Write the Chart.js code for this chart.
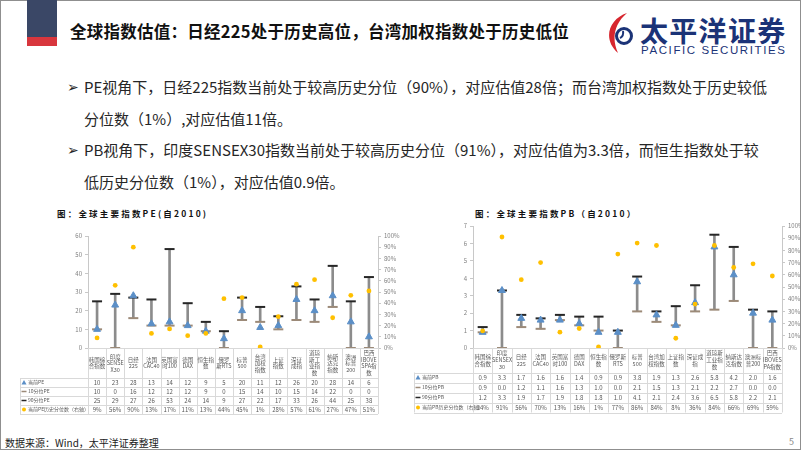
<!DOCTYPE html>
<html>
<head>
<meta charset="utf-8">
<script src="https://cdn.jsdelivr.net/npm/chart.js@4.4.0/dist/chart.umd.min.js"></script>
<style>
  html, body { margin: 0; padding: 0; background: #fff; }
  body { width: 802px; height: 451px; position: relative; overflow: hidden;
         font-family: "Noto Sans CJK SC", "Noto Sans", sans-serif; color: #222; }
  .frame { position: absolute; left: 0; top: 0; width: 799px; height: 448px; border: 1px solid #8f8f8f; }
  .navy { position: absolute; left: 27px; top: 0; width: 30px; height: 37px; background: #3a4766; }
  .red { position: absolute; left: 27px; top: 37px; width: 30px; height: 9px; background: #d8363d; }
  .title { position: absolute; left: 70px; top: 19px; font-size: 16.5px; font-weight: bold; color: #111; white-space: nowrap; letter-spacing: 0.25px; }
  .logo-cn { position: absolute; left: 640px; top: 10px; font-size: 28px; font-weight: bold; color: #1b3377; letter-spacing: 1.3px; white-space: nowrap; }
  .logo-en { position: absolute; left: 641px; top: 44px; font-size: 11.5px; color: #1b3377; letter-spacing: 1.6px; white-space: nowrap; font-family: "Liberation Sans", sans-serif; }
  .bullets { position: absolute; left: 67px; top: 71px; font-size: 15px; line-height: 31.5px; color: #262626; }
  .bullets .row { position: relative; padding-left: 17px; white-space: nowrap; }
  .bullets .arrow { position: absolute; left: 0; top: 0; font-size: 14px; }
  .ctitle { position: absolute; top: 207px; font-size: 8.5px; font-weight: bold; letter-spacing: 2.2px; color: #111; white-space: nowrap; }
  canvas { position: absolute; }
  .foot { position: absolute; left: 5px; top: 435px; font-size: 10px; color: #222; white-space: nowrap; }
  .page { position: absolute; left: 789px; top: 435px; font-size: 9px; color: #888; }
</style>
</head>
<body>
<div class="frame"></div>
<div class="navy"></div>
<div class="red"></div>
<div class="title">全球指数估值：日经225处于历史高位，台湾加权指数处于历史低位</div>
<svg width="36" height="44" style="position:absolute;left:603px;top:11px">
  <path d="M24 2 C6 8 -1 28 15 42 C9 29 10 14 24 2 Z" fill="#d7262e"/>
  <circle cx="21" cy="25" r="7.5" fill="none" stroke="#1b3377" stroke-width="3"/>
  <path d="M17 27 q4 -2 3 -7" fill="none" stroke="#1b3377" stroke-width="2"/>
</svg>
<div class="logo-cn">太平洋证券</div>
<div class="logo-en">PACIFIC SECURITIES</div>

<div class="bullets">
  <div class="row"><span class="arrow">➢</span>PE视角下，日经225指数当前处于较高历史分位（90%），对应估值28倍；而台湾加权指数处于历史较低<br>分位数（1%）,对应估值11倍。</div>
  <div class="row"><span class="arrow">➢</span>PB视角下，印度SENSEX30指数当前处于较高历史分位（91%），对应估值为3.3倍，而恒生指数处于较<br>低历史分位数（1%），对应估值0.9倍。</div>
</div>

<div class="ctitle" style="left:57px">图：全球主要指数PE(自2010)</div>
<div class="ctitle" style="left:475px">图：全球主要指数PB（自2010）</div>

<canvas id="pe" width="392" height="196" style="left:14px;top:226px"></canvas>
<canvas id="pb" width="390" height="200" style="left:410px;top:218px"></canvas>

<div class="foot">数据来源：Wind，太平洋证券整理</div>
<div class="page">5</div>

<script>
// PE data
const peCats = [['韩国综','合指数'], ['印度','SENSE','X30'], ['日经','225'], ['法国','CAC40'], ['英国富','时100'],
  ['德国','DAX'], ['恒生指','数'], ['俄罗','斯RTS'], ['标普','500'], ['台湾','加权','指数'], ['上证','指数'],
  ['深证','成指'], ['道琼','斯工','业指','数'], ['纳斯','达克','指数'], ['澳洲','标普','200'], ['巴西','IBOVE','SPA指','数']];
const peCurrent = [10, 23, 28, 13, 14, 12, 9, 5, 20, 11, 12, 26, 20, 28, 14, 6];
const pe10 = [10, 0, 16, 12, 12, 12, 9, 0, 15, 14, 10, 15, 14, 22, 0, 0];
const pe90 = [25, 29, 27, 26, 53, 24, 14, 9, 27, 22, 17, 33, 26, 44, 25, 38];
const pePct = [9, 56, 90, 13, 17, 11, 13, 44, 45, 1, 28, 57, 61, 27, 47, 51];

// PB data
const pbCats = [['韩国综','合指数'], ['印度','SENSEX','30'], ['日经','225'], ['法国','CAC40'], ['英国富','时100'],
  ['德国','DAX'], ['恒生指','数'], ['俄罗斯','RTS'], ['标普','500'], ['台湾加','权指数'], ['上证指','数'],
  ['深证成','指'], ['道琼斯','工业指','数'], ['纳斯达','克指数'], ['澳洲标','普200'], ['巴西','IBOVES','PA指数']];
const pbCurrent = [0.9, 3.3, 1.7, 1.6, 1.6, 1.4, 0.9, 0.9, 3.8, 1.9, 1.3, 2.6, 5.8, 4.2, 2.0, 1.6];
const pb10 = [0.9, 0.0, 1.2, 1.1, 1.6, 1.3, 1.0, 0.0, 2.1, 1.5, 1.3, 2.1, 2.2, 2.7, 0.0, 0.0];
const pb90 = [1.2, 3.3, 1.9, 1.7, 1.9, 1.8, 1.8, 1.0, 4.1, 2.1, 2.4, 3.6, 6.5, 5.8, 2.2, 2.1];
const pbPct = [14, 91, 56, 70, 13, 16, 1, 77, 86, 84, 8, 36, 84, 66, 69, 59];

const BLUE = '#5b8fc7', GOLD = '#ffc000', CAP90 = '#262626', CAP10 = '#9c8a78', STEM = '#8c8c8c';

Chart.defaults.font.family = '"Noto Sans CJK SC", sans-serif';
Chart.defaults.animation = false;

function drawMarker(ctx, kind, x, y) {
  ctx.save();
  if (kind === 'tri') {
    ctx.fillStyle = BLUE;
    ctx.beginPath(); ctx.moveTo(x, y - 2.5); ctx.lineTo(x + 2.5, y + 2); ctx.lineTo(x - 2.5, y + 2); ctx.closePath(); ctx.fill();
  } else if (kind === 'dot') {
    ctx.fillStyle = GOLD;
    ctx.beginPath(); ctx.arc(x, y, 2, 0, Math.PI * 2); ctx.fill();
  } else {
    ctx.strokeStyle = kind === 'c90' ? CAP90 : CAP10; ctx.lineWidth = 1.5;
    ctx.beginPath(); ctx.moveTo(x - 2.5, y); ctx.lineTo(x + 2.5, y); ctx.stroke();
  }
  ctx.restore();
}

function tablePlugin(t) {
  return {
    id: 'dataTable',
    afterDraw(chart) {
      const ctx = chart.ctx, a = chart.chartArea;
      const n = t.cats.length, cw = (a.right - a.left) / n;
      const top = a.bottom, cb = top + t.catH, bottom = cb + t.rowH * t.rows.length;
      ctx.save();
      ctx.strokeStyle = '#d9d9d9'; ctx.lineWidth = 1;
      ctx.beginPath();
      for (let i = 0; i <= n; i++) {
        const x = Math.round(a.left + i * cw) + 0.5;
        ctx.moveTo(x, top); ctx.lineTo(x, bottom);
      }
      ctx.moveTo(a.left, Math.round(top) + 0.5); ctx.lineTo(a.right, Math.round(top) + 0.5);
      for (let k = 0; k <= t.rows.length; k++) {
        const y = Math.round(cb + k * t.rowH) + 0.5;
        ctx.moveTo(t.left, y); ctx.lineTo(a.right, y);
      }
      ctx.moveTo(t.left + 0.5, cb); ctx.lineTo(t.left + 0.5, bottom);
      ctx.stroke();

      ctx.fillStyle = '#595959'; ctx.textAlign = 'center'; ctx.textBaseline = 'middle';
      ctx.font = t.catFont;
      t.cats.forEach((lines, i) => {
        const x = a.left + (i + 0.5) * cw;
        const y0 = top + t.catH / 2 - (lines.length - 1) * t.lineH / 2;
        lines.forEach((s, j) => ctx.fillText(s, x, y0 + j * t.lineH));
      });
      t.rows.forEach((r, k) => {
        const y = cb + (k + 0.5) * t.rowH;
        ctx.font = t.valFont; ctx.textAlign = 'center';
        r.values.forEach((v, i) => ctx.fillText(r.fmt(v), a.left + (i + 0.5) * cw, y));
        drawMarker(ctx, r.marker, t.left + 4, y);
        ctx.font = t.legFont; ctx.textAlign = 'left';
        ctx.fillText(r.label, t.left + 8, y);
      });
      ctx.restore();
    }
  };
}

function makeChart(id, o) {
  return new Chart(document.getElementById(id), {
    type: 'bar',
    data: {
      labels: o.cats.map(c => c.join('')),
      datasets: [
        { label: 'range', data: o.lo.map((v, i) => [v, o.hi[i]]), backgroundColor: STEM,
          barThickness: 2, order: 5, yAxisID: 'y' },
        { type: 'line', label: o.name10, data: o.lo, showLine: false, pointStyle: 'line',
          pointRadius: 5, borderColor: CAP10, borderWidth: 2, order: 4, yAxisID: 'y' },
        { type: 'line', label: o.name90, data: o.hi, showLine: false, pointStyle: 'line',
          pointRadius: 5, borderColor: CAP90, borderWidth: 2, order: 3, yAxisID: 'y' },
        { type: 'line', label: o.nameCur, data: o.current, showLine: false, pointStyle: 'triangle',
          pointRadius: 4, backgroundColor: BLUE, borderColor: BLUE, borderWidth: 1, order: 2, yAxisID: 'y' },
        { type: 'line', label: o.namePct, data: o.pct, showLine: false, pointStyle: 'circle',
          pointRadius: 2.4, backgroundColor: GOLD, borderColor: GOLD, borderWidth: 0, order: 1, yAxisID: 'y1' }
      ]
    },
    options: {
      responsive: false,
      devicePixelRatio: 1,
      layout: { padding: { top: o.padTop, left: 0, right: 0, bottom: 0 } },
      plugins: { legend: { display: false }, tooltip: { enabled: false } },
      scales: {
        x: { offset: true, ticks: { display: false }, grid: { display: false, drawTicks: false },
             border: { display: false }, afterFit(s) { s.height = o.xH; } },
        y: { position: 'left', min: 0, max: o.yMax,
             ticks: { stepSize: o.yStep, font: { size: 6 }, color: '#7f7f7f', padding: 3 },
             grid: { drawOnChartArea: false, tickLength: 3, color: '#c8c8c8' },
             border: { color: '#c8c8c8' }, afterFit(s) { s.width = o.leftW; } },
        y1: { position: 'right', min: 0, max: 100,
              ticks: { stepSize: 10, font: { size: 6 }, color: '#7f7f7f', padding: 3, callback: v => v + '%' },
              grid: { drawOnChartArea: false, tickLength: 3, color: '#c8c8c8' },
              border: { color: '#c8c8c8' }, afterFit(s) { s.width = o.rightW; } }
      }
    },
    plugins: [tablePlugin({
      cats: o.cats, catH: o.catH, rowH: o.rowH, lineH: o.lineH, left: o.legLeft,
      catFont: '5.5px "Noto Sans CJK SC"', valFont: '6px "Noto Sans CJK SC"', legFont: '5px "Noto Sans CJK SC"',
      rows: [
        { label: o.nameCur, values: o.current, marker: 'tri', fmt: o.fmt },
        { label: o.name10, values: o.lo, marker: 'c10', fmt: o.fmt },
        { label: o.name90, values: o.hi, marker: 'c90', fmt: o.fmt },
        { label: o.namePct, values: o.pct, marker: 'dot', fmt: v => v + '%' }
      ]
    })]
  });
}

makeChart('pe', {
  cats: peCats, current: peCurrent, lo: pe10, hi: pe90, pct: pePct,
  nameCur: '当前PE', name10: '10分位PE', name90: '90分位PE', namePct: '当前PE历史分位数（右轴）',
  yMax: 60, yStep: 10, padTop: 10, xH: 74, leftW: 74, rightW: 28,
  catH: 30, rowH: 9, lineH: 6.5, legLeft: 6, fmt: v => String(v)
});

makeChart('pb', {
  cats: pbCats, current: pbCurrent, lo: pb10, hi: pb90, pct: pbPct,
  nameCur: '当前PB', name10: '10分位PB', name90: '90分位PB', namePct: '当前PB历史分位数（右轴）',
  yMax: 7, yStep: 1, padTop: 8, xH: 70, leftW: 63, rightW: 18,
  catH: 24.5, rowH: 10, lineH: 7, legLeft: 4, fmt: v => v.toFixed(1)
});
</script>
</body>
</html>
